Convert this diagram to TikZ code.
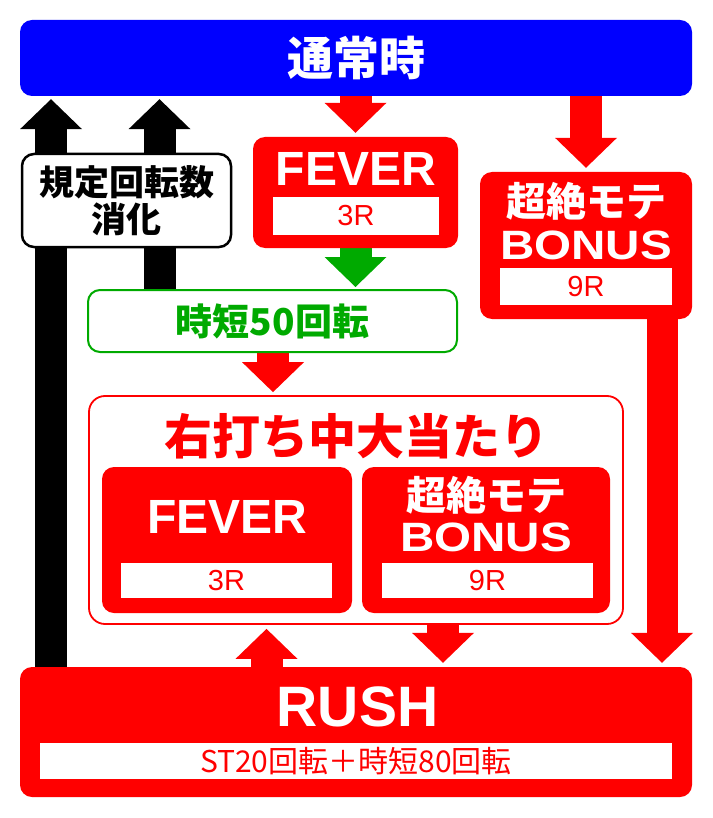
\documentclass[tikz,border=0pt]{standalone}
\usepackage{fontspec}
\setmainfont{Liberation Sans}
\newfontfamily\jpfont{Noto Sans CJK JP}
\usetikzlibrary{positioning,arrows.meta,backgrounds}

\definecolor{normalblue}{RGB}{0,0,255}
\definecolor{rushred}{RGB}{255,0,0}
\definecolor{jitangreen}{RGB}{0,170,0}

\begin{document}
\begin{tikzpicture}[x=1pt, y=-1pt,
    flowbox/.style={rectangle, rounded corners=12pt, inner sep=0pt},
    redbox/.style={flowbox, fill=rushred},
    rbox/.style={rectangle, fill=white, inner sep=0pt, text=rushred, font=\fontsize{29}{31}\selectfont},
    bigtext/.style={text=white, font=\bfseries\fontsize{48}{50}\selectfont},
    jptext/.style={text=white, font=\jpfont\bfseries\fontsize{40}{44}\selectfont},
    bonustext/.style={text=white, font=\bfseries\fontsize{41}{44}\selectfont},
    bigarrow/.style={line width=32pt, -{Triangle[length=30pt, width=62pt, line width=0pt]}},
  ]
  \useasboundingbox (0,0) rectangle (712,818);

  % top state
  \node[flowbox, fill=normalblue, minimum width=672pt, minimum height=76pt,
        font=\jpfont\bfseries\fontsize{46}{50}\selectfont, text=white] (normal) at (356,58) {通常時};

  % back to normal
  \node[flowbox, fill=white, draw=black, line width=2.5pt, minimum width=209pt, minimum height=93pt,
        align=center, font=\jpfont\bfseries\fontsize{35}{37}\selectfont] (kitei) at (126.5,200.5) {規定回転数\\消化};

  % hits from normal
  \node[redbox, minimum width=205pt, minimum height=111pt] (fever1) at (355.5,192.5) {};
  \node[bigtext] (fever1txt) at (356,169) {FEVER};
  \node[rbox, minimum width=166pt, minimum height=38pt] (fever1r) at (356,216) {3R};

  \node[redbox, minimum width=212pt, minimum height=147pt] (bonus1) at (586,245.5) {};
  \node[jptext] (bonus1txt) at (586,201) {超絶モテ};
  \node[bonustext] (bonus1en) at (586,245) {\scalebox{1.16}[1]{BONUS}};
  \node[rbox, minimum width=172pt, minimum height=37pt] (bonus1r) at (586,286.5) {9R};

  % jitan
  \node[flowbox, draw=jitangreen, line width=2pt, fill=white, minimum width=369pt, minimum height=62pt,
        text=jitangreen, font=\jpfont\bfseries\fontsize{37}{40}\selectfont] (jitan) at (272.5,321) {時短50回転};

  % right-hand hits
  \node[flowbox, draw=rushred, line width=1.8pt, fill=white, rounded corners=16pt,
        minimum width=534pt, minimum height=228pt] (migi) at (356,510) {};
  \node[text=rushred, font=\jpfont\bfseries\fontsize{48}{52}\selectfont] (migitxt) at (356,436) {右打ち中大当たり};

  \node[redbox, minimum width=250pt, minimum height=146pt] (fever2) at (227,540) {};
  \node[bigtext] (fever2txt) at (227.5,517) {FEVER};
  \node[rbox, minimum width=211pt, minimum height=35pt] (fever2r) at (226.5,580.5) {3R};

  \node[redbox, minimum width=248pt, minimum height=146pt] (bonus2) at (486,540) {};
  \node[jptext] (bonus2txt) at (486.5,495) {超絶モテ};
  \node[bonustext] (bonus2en) at (486,537) {\scalebox{1.16}[1]{BONUS}};
  \node[rbox, minimum width=211pt, minimum height=35pt] (bonus2r) at (487.5,580.5) {9R};

  % rush
  \node[redbox, minimum width=672pt, minimum height=130pt] (rush) at (356,732) {};
  \node[text=white, font=\bfseries\fontsize{57}{60}\selectfont] (rushtxt) at (357.5,707) {RUSH};
  \node[rbox, minimum width=632pt, minimum height=36pt, font=\jpfont\fontsize{30}{32}\selectfont] (rushst) at (356,761) {ST20回転＋時短80回転};

  % arrow columns
  \coordinate (colA) at (51,0);
  \coordinate (colB) at (159.5,0);
  \coordinate (colC) at (273,0);
  \coordinate (colD) at (662,0);
  \coordinate (colE) at (266.5,0);
  \coordinate (colF) at (443,0);

  \begin{scope}[on background layer]
    \draw[bigarrow, black, shorten >=3pt] (colA |- rush.north) -- (colA |- normal.south);
    \draw[bigarrow, black, shorten >=3pt] (colB |- jitan.north) -- (colB |- normal.south);
    \draw[bigarrow, rushred, shorten >=4pt] (normal.south -| fever1) -- (fever1.north);
    \draw[bigarrow, rushred, shorten >=4pt] (normal.south -| bonus1) -- (bonus1.north);
    \draw[bigarrow, jitangreen, shorten >=2pt] (fever1.south) -- (fever1.south |- jitan.north);
    \draw[bigarrow, rushred, shorten >=3pt] (colC |- jitan.south) -- (colC |- migi.north);
    \draw[bigarrow, rushred, line width=31pt, shorten >=4pt] (colD |- bonus1.south) -- (colD |- rush.north);
    \draw[bigarrow, rushred, shorten >=4pt] (colE |- rush.north) -- (colE |- migi.south);
    \draw[bigarrow, rushred, shorten >=4pt] (colF |- migi.south) -- (colF |- rush.north);
  \end{scope}
\end{tikzpicture}
\end{document}
